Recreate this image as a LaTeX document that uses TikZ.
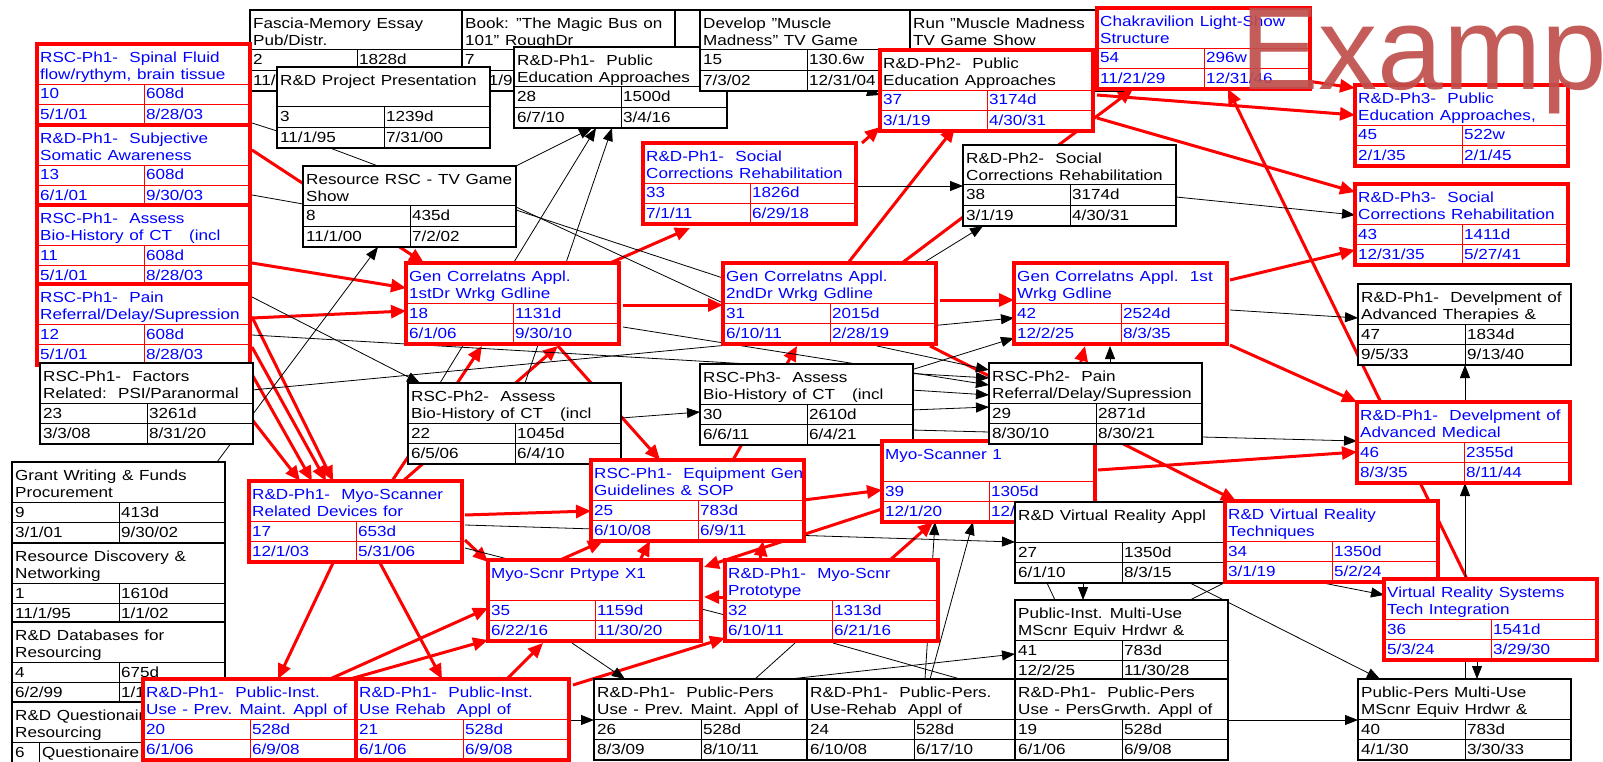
\documentclass[tikz,border=0pt]{standalone}
\usepackage{fontspec}
\setmainfont[FakeStretch=1.17,WordSpace=1.2]{Liberation Sans}
\newfontfamily\wmfont{Liberation Sans}
\usetikzlibrary{arrows.meta}
\pgfdeclarelayer{bg}
\pgfdeclarelayer{edges}
\pgfsetlayers{bg,edges,main}
\definecolor{pblue}{RGB}{0,0,255}
\definecolor{pred}{RGB}{255,0,0}
\definecolor{wmred}{RGB}{192,80,77}
\tikzset{
 rframe/.style={draw=pred, line width=3.5pt, fill=white},
 kframe/.style={draw=black, line width=1.3pt, fill=white},
 mframe/.style={rframe},
 rgrid/.style={draw=pred, line width=0.9pt},
 kgrid/.style={draw=black, line width=1pt},
 mgrid/.style={rgrid},
 rtitle/.style={text=pblue}, ktitle/.style={text=black}, mtitle/.style={text=black},
 rval/.style={text=pblue}, kval/.style={text=black}, mval/.style={text=pblue},
 txt/.style={inner sep=0pt, font=\fontsize{14.6}{17}\selectfont, align=left},
 re/.style={draw=pred, line width=3pt, -{Triangle[length=15pt,width=13pt]}},
 ke/.style={draw=black, line width=0.8pt, -{Triangle[length=13pt,width=10pt]}},
 kl/.style={draw=black, line width=0.8pt},
}
\newcommand\pbox[9]{%
 \expandafter\xdef\csname pX#1\endcsname{#2}%
 \expandafter\xdef\csname pY#1\endcsname{#3}%
 \node[#4frame, anchor=north west, minimum width=213pt, minimum height=81pt, inner sep=0pt, outer sep=0pt] (#1) at (#2,#3) {};
 \draw[#4grid] (#2,#3+40) -- (#2+213,#3+40) (#2,#3+60.5) -- (#2+213,#3+60.5) (#2+107,#3+40) -- (#2+107,#3+81);
 \node[txt,#4title,anchor=north west] at (#2+3,#3+8) {#5};
 \node[txt,#4val,anchor=base west] at (#2+3,#3+55) {#6};
 \node[txt,#4val,anchor=base west] at (#2+109,#3+55) {#7};
 \node[txt,#4val,anchor=base west] at (#2+3,#3+75.5) {#8};
 \node[txt,#4val,anchor=base west] at (#2+109,#3+75.5) {#9};
}
\newcommand\ed[7]{\draw[#1] ([shift={({#3-\csname pX#2\endcsname},{#4-\csname pY#2\endcsname})}]#2.north west) -- ([shift={({#6-\csname pX#5\endcsname},{#7-\csname pY#5\endcsname})}]#5.north west);}
\begin{document}
\begin{tikzpicture}[x=1pt,y=-1pt]
\useasboundingbox (0,0) rectangle (1603,762);
\begin{pgfonlayer}{bg}
\fill[white] (0,0) rectangle (1603,762);
\end{pgfonlayer}
\clip (0,0) rectangle (1603,762);
% top row
\pbox{n2}{250}{10}{k}{Fascia-Memory Essay\\Pub/Distr.}{2}{1828d}{11/1/95}{}
\pbox{nb}{488}{10}{k}{}{}{}{}{}
\pbox{n7}{462}{10}{k}{Book: "The Magic Bus on\\101" RoughDr}{7}{}{7/01/96}{}
\pbox{n3}{277}{67}{k}{R\&D Project Presentation}{3}{1239d}{11/1/95}{7/31/00}
\pbox{n28}{514}{47}{k}{R\&D-Ph1-~~Public\\Education Approaches}{28}{1500d}{6/7/10}{3/4/16}
\pbox{n15}{700}{10}{k}{Develop "Muscle\\Madness" TV Game}{15}{130.6w}{7/3/02}{12/31/04}
\pbox{n16}{910}{10}{k}{Run "Muscle Madness\\TV Game Show}{}{}{}{}
\pbox{n37}{880}{50}{m}{R\&D-Ph2-~~Public\\Education Approaches}{37}{3174d}{3/1/19}{4/30/31}
\pbox{n54}{1097}{8}{r}{Chakravilion Light-Show\\Structure}{54}{296w}{11/21/29}{12/31/46}
% left stack
\pbox{n10}{37}{44}{r}{RSC-Ph1-~~Spinal Fluid\\flow/rythym, brain tissue}{10}{608d}{5/1/01}{8/28/03}
\pbox{n13}{37}{125}{r}{R\&D-Ph1-~~Subjective\\Somatic Awareness}{13}{608d}{6/1/01}{9/30/03}
\pbox{n11}{37}{205}{r}{RSC-Ph1-~~Assess\\Bio-History of CT~~~(incl}{11}{608d}{5/1/01}{8/28/03}
\pbox{n12}{37}{284}{r}{RSC-Ph1-~~Pain\\Referral/Delay/Supression}{12}{608d}{5/1/01}{8/28/03}
\pbox{n23}{40}{363}{k}{RSC-Ph1-~~Factors\\Related:~~PSI/Paranormal}{23}{3261d}{3/3/08}{8/31/20}
% left column
\pbox{n9}{12}{462}{k}{Grant Writing \& Funds\\Procurement}{9}{413d}{3/1/01}{9/30/02}
\pbox{n1}{12}{543}{k}{Resource Discovery \&\\Networking}{1}{1610d}{11/1/95}{1/1/02}
\pbox{n4}{12}{622}{k}{R\&D Databases for\\Resourcing}{4}{675d}{6/2/99}{1/1/01}
\node[kframe, anchor=north west, minimum width=213pt, minimum height=80pt, inner sep=0pt, outer sep=0pt] (n6) at (12,702) {};
\draw[kgrid] (12,742) -- (225,742) (39,742) -- (39,790);
\node[txt,anchor=north west] at (15,710) {R\&D Questionaire\\Resourcing};
\node[txt,anchor=base west] at (15,757) {6};
\node[txt,anchor=base west] at (42,757) {Questionaire};
% middle
\pbox{n8}{303}{166}{k}{Resource RSC - TV Game\\Show}{8}{435d}{11/1/00}{7/2/02}
\pbox{n33}{643}{143}{r}{R\&D-Ph1-~~Social\\Corrections Rehabilitation}{33}{1826d}{7/1/11}{6/29/18}
\pbox{n38}{963}{145}{k}{R\&D-Ph2-~~Social\\Corrections Rehabilitation}{38}{3174d}{3/1/19}{4/30/31}
\pbox{n45}{1355}{85}{r}{R\&D-Ph3-~~Public\\Education Approaches,}{45}{522w}{2/1/35}{2/1/45}
\pbox{n43}{1355}{184}{r}{R\&D-Ph3-~~Social\\Corrections Rehabilitation}{43}{1411d}{12/31/35}{5/27/41}
\pbox{n18}{406}{263}{r}{Gen Correlatns Appl.\\1stDr Wrkg Gdline}{18}{1131d}{6/1/06}{9/30/10}
\pbox{n31}{723}{263}{r}{Gen Correlatns Appl.\\2ndDr Wrkg Gdline}{31}{2015d}{6/10/11}{2/28/19}
\pbox{n42}{1014}{263}{r}{Gen Correlatns Appl.~~1st\\Wrkg Gdline}{42}{2524d}{12/2/25}{8/3/35}
\pbox{n47}{1358}{284}{k}{R\&D-Ph1-~~Develpment of\\Advanced Therapies \&}{47}{1834d}{9/5/33}{9/13/40}
\pbox{n22}{408}{383}{k}{RSC-Ph2-~~Assess\\Bio-History of CT~~~(incl}{22}{1045d}{6/5/06}{6/4/10}
\pbox{n30}{700}{364}{k}{RSC-Ph3-~~Assess\\Bio-History of CT~~~(incl}{30}{2610d}{6/6/11}{6/4/21}
\pbox{n39}{882}{441}{r}{Myo-Scanner 1}{39}{1305d}{12/1/20}{12/1/24}
\pbox{n29}{989}{363}{k}{RSC-Ph2-~~Pain\\Referral/Delay/Supression}{29}{2871d}{8/30/10}{8/30/21}
\pbox{n46}{1357}{402}{r}{R\&D-Ph1-~~Develpment of\\Advanced Medical}{46}{2355d}{8/3/35}{8/11/44}
\pbox{n25}{591}{460}{r}{RSC-Ph1-~~Equipment Gen\\Guidelines \& SOP}{25}{783d}{6/10/08}{6/9/11}
\pbox{n17}{249}{481}{r}{R\&D-Ph1-~~Myo-Scanner\\Related Devices for}{17}{653d}{12/1/03}{5/31/06}
\pbox{n27}{1015}{502}{k}{R\&D Virtual Reality Appl}{27}{1350d}{6/1/10}{8/3/15}
\pbox{n34}{1225}{501}{r}{R\&D Virtual Reality\\Techniques}{34}{1350d}{3/1/19}{5/2/24}
\pbox{n36}{1384}{579}{r}{Virtual Reality Systems\\Tech Integration}{36}{1541d}{5/3/24}{3/29/30}
\pbox{n35}{488}{560}{r}{Myo-Scnr Prtype X1}{35}{1159d}{6/22/16}{11/30/20}
\pbox{n32}{725}{560}{r}{R\&D-Ph1-~~Myo-Scnr\\Prototype}{32}{1313d}{6/10/11}{6/21/16}
\pbox{n41}{1015}{600}{k}{Public-Inst. Multi-Use\\MScnr Equiv Hrdwr \&}{41}{783d}{12/2/25}{11/30/28}
% bottom row
\pbox{n20}{143}{679}{r}{R\&D-Ph1-~~Public-Inst.\\Use - Prev. Maint. Appl of}{20}{528d}{6/1/06}{6/9/08}
\pbox{n21}{356}{679}{r}{R\&D-Ph1-~~Public-Inst.\\Use Rehab~~Appl of}{21}{528d}{6/1/06}{6/9/08}
\pbox{n26}{594}{679}{k}{R\&D-Ph1-~~Public-Pers\\Use - Prev. Maint. Appl of}{26}{528d}{8/3/09}{8/10/11}
\pbox{n24}{807}{679}{k}{R\&D-Ph1-~~Public-Pers.\\Use-Rehab~~Appl of}{24}{528d}{6/10/08}{6/17/10}
\pbox{n19}{1015}{679}{k}{R\&D-Ph1-~~Public-Pers\\Use - PersGrwth. Appl of}{19}{528d}{6/1/06}{6/9/08}
\pbox{n40}{1358}{679}{k}{Public-Pers Multi-Use\\MScnr Equiv Hrdwr \&}{40}{783d}{4/1/30}{3/30/33}
% watermark
\node[anchor=base west, inner sep=0pt, text=wmred, opacity=0.92, font=\wmfont\fontsize{118}{118}\selectfont] (wm) at (1240,90) {Example};
\begin{pgfonlayer}{edges}
% red critical links
\ed{re}{n13}{252}{150}{n18}{424}{263}
\ed{re}{n11}{252}{263}{n18}{406}{288}
\ed{re}{n12}{252}{318}{n18}{406}{311}
\ed{re}{n12}{252}{317}{n17}{333}{481}
\ed{re}{n12}{252}{347}{n17}{326}{481}
\ed{re}{n12}{227}{330}{n17}{312}{481}
\ed{re}{n12}{190}{340}{n17}{300}{481}
\ed{re}{n18}{610}{263}{n33}{690}{228}
\ed{re}{n18}{623}{305}{n31}{723}{305}
\ed{re}{n31}{940}{300}{n42}{1014}{300}
\ed{re}{n33}{862}{143}{n37}{880}{127}
\ed{re}{n31}{848}{263}{n37}{955}{127}
\ed{re}{n31}{902}{263}{n54}{1133}{89}
\ed{re}{n37}{1097}{95}{n45}{1355}{115}
\ed{re}{n37}{1097}{118}{n43}{1355}{192}
\ed{re}{n54}{1300}{80}{n45}{1355}{88}
\ed{re}{n42}{1230}{280}{n43}{1355}{250}
\ed{re}{n42}{1230}{345}{n46}{1357}{402}
\ed{re}{n36}{1467}{579}{n54}{1228}{89}
\ed{re}{n31}{930}{346}{n34}{1236}{501}
\ed{re}{n39}{1098}{470}{n46}{1357}{452}
\ed{re}{n39}{1060}{441}{n42}{1085}{346}
\ed{re}{n17}{392}{481}{n18}{482}{346}
\ed{re}{n17}{403}{481}{n18}{558}{346}
\ed{re}{n18}{558}{346}{n25}{660}{460}
\ed{re}{n17}{465}{515}{n25}{591}{511}
\ed{re}{n17}{465}{540}{n35}{488}{562}
\ed{re}{n39}{882}{509}{n35}{704}{567}
\ed{re}{n32}{725}{597}{n35}{704}{597}
\ed{re}{n20}{350}{679}{n35}{488}{640}
\ed{re}{n20}{330}{679}{n35}{488}{608}
\ed{re}{n21}{507}{679}{n35}{543}{643}
\ed{re}{n21}{573}{685}{n32}{725}{638}
\ed{re}{n17}{333}{563}{n20}{278}{679}
\ed{re}{n17}{380}{563}{n21}{442}{679}
\ed{re}{n35}{560}{560}{n25}{603}{541}
\ed{re}{n35}{640}{560}{n25}{650}{541}
\ed{re}{n32}{760}{560}{n25}{763}{541}
\ed{re}{n25}{804}{500}{n39}{882}{490}
\ed{re}{n25}{733}{460}{n31}{797}{346}
\ed{re}{n32}{890}{560}{n39}{933}{522}
% black links
\ed{ke}{n8}{516}{166}{n28}{592}{128}
\ed{ke}{n22}{440}{383}{n28}{596}{128}
\ed{ke}{n22}{525}{383}{n28}{612}{128}
\ed{kl}{n3}{330}{148}{n8}{378}{166}
\ed{kl}{n10}{252}{123}{n3}{277}{131}
\ed{kl}{n13}{252}{195}{n8}{303}{204}
\ed{kl}{n8}{516}{210}{n31}{723}{278}
\ed{kl}{n8}{516}{207}{n31}{723}{303}
\ed{ke}{n33}{856}{186}{n38}{963}{186}
\ed{ke}{n31}{923}{263}{n38}{983}{226}
\ed{ke}{n38}{1176}{197}{n43}{1355}{215}
\ed{ke}{n15}{800}{70}{n37}{880}{95}
\ed{ke}{n22}{621}{418}{n30}{700}{412}
\ed{ke}{n29}{1110}{363}{n42}{1110}{346}
\ed{ke}{n30}{911}{370}{n42}{1014}{338}
\ed{ke}{n23}{252}{390}{n42}{1014}{318}
\ed{ke}{n12}{252}{335}{n29}{989}{378}
\ed{ke}{n42}{1230}{310}{n47}{1358}{318}
\ed{ke}{n29}{1202}{437}{n46}{1357}{441}
\ed{ke}{n46}{1465}{402}{n47}{1465}{365}
\ed{ke}{n40}{1465}{679}{n46}{1465}{483}
\ed{ke}{n36}{1477}{660}{n40}{1477}{679}
\ed{ke}{n34}{1323}{583}{n36}{1384}{595}
\ed{ke}{n27}{1190}{583}{n40}{1380}{679}
\ed{kl}{n41}{1190}{600}{n34}{1240}{575}
\ed{ke}{n19}{1228}{720}{n40}{1358}{720}
\ed{ke}{n27}{1083}{583}{n41}{1083}{600}
\ed{kl}{n27}{1047}{583}{n41}{1055}{600}
\ed{ke}{n26}{790}{679}{n41}{1015}{654}
\ed{ke}{n35}{572}{643}{n26}{625}{679}
\ed{ke}{n21}{569}{720}{n26}{594}{720}
\ed{kl}{n32}{795}{643}{n26}{755}{679}
\ed{kl}{n32}{833}{643}{n24}{960}{679}
\ed{ke}{n24}{925}{679}{n39}{935}{522}
\ed{ke}{n24}{930}{679}{n39}{973}{522}
\ed{ke}{n17}{465}{525}{n27}{1015}{542}
\ed{kl}{n17}{465}{548}{n32}{725}{615}
\ed{ke}{n9}{217}{462}{n8}{378}{247}
\ed{ke}{n12}{252}{297}{n22}{420}{383}
\ed{ke}{n31}{877}{346}{n29}{989}{370}
\ed{ke}{n30}{911}{390}{n29}{989}{395}
\ed{ke}{n30}{911}{410}{n29}{989}{407}
\ed{kl}{n30}{911}{430}{n29}{989}{432}
\ed{ke}{n18}{623}{327}{n29}{989}{385}
\end{pgfonlayer}
\end{tikzpicture}
\end{document}
